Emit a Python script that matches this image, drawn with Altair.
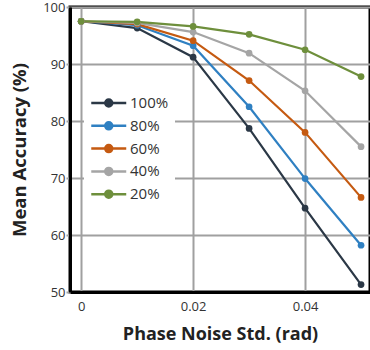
import altair as alt
import pandas as pd

noise = [0, 0.01, 0.02, 0.03, 0.04, 0.05]
series_names = ["100%", "80%", "60%", "40%", "20%"]
acc_100 = [97.5, 96.3, 91.2, 78.7, 64.7, 51.3]
acc_80 = [97.5, 96.8, 93.2, 82.5, 69.9, 58.2]
acc_60 = [97.5, 97.0, 94.1, 87.1, 78.0, 66.6]
acc_40 = [97.5, 97.2, 95.6, 91.9, 85.3, 75.5]
acc_20 = [97.5, 97.4, 96.6, 95.2, 92.5, 87.8]
colors = ["#2b3846", "#2f80c2", "#c55a11", "#a5a5a5", "#6e8f3c"]

rows = []
for name, vals in zip(series_names, [acc_100, acc_80, acc_60, acc_40, acc_20]):
    for x, v in zip(noise, vals):
        rows.append({"noise": x, "acc": v, "series": name})
df = pd.DataFrame(rows)

sym = "M-1,0H3M0.6,0A0.4,0.4,0,1,1,1.4,0A0.4,0.4,0,1,1,0.6,0Z"

color = alt.Color(
    "series:N",
    scale=alt.Scale(domain=series_names, range=colors),
    sort=series_names,
    legend=alt.Legend(
        title=None,
        orient="none",
        legendX=14,
        legendY=80,
        symbolType=sym,
        symbolSize=306,
        symbolStrokeWidth=2.5,
        labelFontSize=15,
        labelFont="Open Sans",
        labelColor="#333333",
        fillColor="white",
        padding=6,
        rowPadding=3.8,
        labelOffset=20,
    ),
)

x = alt.X(
    "noise:Q",
    scale=alt.Scale(domain=[-0.002, 0.0516], nice=False, zero=False),
    axis=alt.Axis(values=[0, 0.02, 0.04], format="~g", title="Phase Noise Std. (rad)", ticks=False,
                  labelPadding=8, titlePadding=12, titleFontSize=18),
)
y = alt.Y(
    "acc:Q",
    scale=alt.Scale(domain=[50, 100], nice=False, zero=False),
    axis=alt.Axis(values=[50, 60, 70, 80, 90, 100], title="Mean Accuracy (%)", tickSize=4,
                  tickColor="#a0a0a0", tickWidth=2, labelPadding=1, titlePadding=13,
                  titleFontSize=18.5),
)

base = alt.Chart(df)
lines = base.mark_line(strokeWidth=2.2).encode(x=x, y=y, color=color)
points = base.mark_point(filled=True, size=45, opacity=1).encode(x=x, y=y, color=color)

chart = (lines + points).properties(
    width=300, height=285,
    autosize=alt.AutoSizeParams(type="none"),
    padding={"left": 70, "top": 7, "right": 0, "bottom": 58},
).configure_view(
    stroke="black", strokeWidth=3
).configure_axis(
    grid=True, gridColor="#a0a0a0", gridWidth=2, gridOpacity=1,
    domainColor="black", domainWidth=3,
    labelFont="Open Sans", labelFontSize=13, labelColor="#333333",
    titleFont="Open Sans", titleFontWeight="bold", titleColor="#222222",
)

chart.save("out.html", embed_options={"renderer": "svg", "actions": False})
